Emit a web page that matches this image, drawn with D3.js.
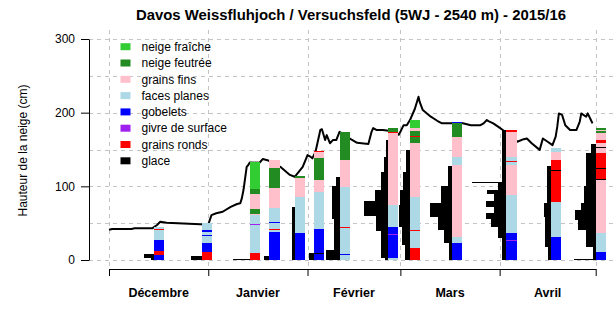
<!DOCTYPE html>
<html><head><meta charset="utf-8">
<script src="https://cdn.jsdelivr.net/npm/d3@7"></script>
<style>
body{margin:0;background:#fff}
svg{display:block}
text{font-family:"Liberation Sans",Arial,Helvetica,sans-serif;fill:#000}
</style>
</head><body>
<svg id="chart" width="616" height="329"></svg>
<script>
// ---------- DATA ----------
const chartTitle = "Davos Weissfluhjoch / Versuchsfeld (5WJ - 2540 m) - 2015/16";
const yLabel = "Hauteur de la neige (cm)";
const typeCodes  = ["F", "FE", "GF", "FP", "GO", "GS", "GR", "GL"];
const typeLabels = ["neige fraîche", "neige feutrée", "grains fins", "faces planes",
                    "gobelets", "givre de surface", "grains ronds", "glace"];
const typeColors = ["#32CD32", "#228B22", "#FFC0CB", "#ADD8E6",
                    "#0000FF", "#A020F0", "#FF0000", "#000000"];

const monthStarts = ["2015-12-01", "2016-01-01", "2016-02-01", "2016-03-01", "2016-04-01", "2016-05-01"];
const monthLabels = ["Décembre", "Janvier", "Février", "Mars", "Avril"];
const yTicks = [0, 100, 200, 300];
const yGrid  = [0, 50, 100, 150, 200, 250, 300];

// snow height (cm)
const heightDates = [
 "2015-12-01T00","2015-12-02T00","2015-12-08T00","2015-12-09T00","2015-12-14T12","2015-12-16T00",
 "2015-12-17T00","2015-12-19T00","2015-12-29T12","2016-01-01T00","2016-01-02T00","2016-01-03T12",
 "2016-01-05T12","2016-01-08T00","2016-01-10T00","2016-01-11T00","2016-01-11T12","2016-01-12T00",
 "2016-01-13T00","2016-01-13T12","2016-01-14T00","2016-01-17T00","2016-01-18T00","2016-01-19T12",
 "2016-01-23T12","2016-01-26T12","2016-01-28T00","2016-01-30T12","2016-02-01T00","2016-02-02T00",
 "2016-02-02T12","2016-02-03T12","2016-02-05T00","2016-02-05T12","2016-02-06T12","2016-02-07T00",
 "2016-02-08T00","2016-02-09T00","2016-02-10T00","2016-02-11T00","2016-02-14T12","2016-02-16T12",
 "2016-02-20T00","2016-02-21T00","2016-02-21T12","2016-02-22T12","2016-02-24T12","2016-02-27T00",
 "2016-02-29T12","2016-03-01T00","2016-03-02T00","2016-03-03T00","2016-03-04T00","2016-03-05T12",
 "2016-03-06T16","2016-03-07T00","2016-03-08T00","2016-03-10T12","2016-03-12T12","2016-03-14T00",
 "2016-03-16T12","2016-03-20T12","2016-03-23T00","2016-03-26T00","2016-03-27T00","2016-03-28T00",
 "2016-03-28T12","2016-03-30T00","2016-03-31T12","2016-04-02T00","2016-04-04T00","2016-04-06T12",
 "2016-04-08T12","2016-04-09T12","2016-04-11T00","2016-04-13T12","2016-04-14T12","2016-04-16T00",
 "2016-04-17T12","2016-04-18T12","2016-04-19T00","2016-04-19T12","2016-04-20T12","2016-04-21T12",
 "2016-04-23T00","2016-04-25T00","2016-04-26T00","2016-04-26T12","2016-04-28T00","2016-04-28T12",
 "2016-04-29T12","2016-04-30T00"
];
const heightValues = [
 41, 42, 42, 43, 43, 47.5,
 52, 50.5, 48.5, 48, 61, 63.5,
 65.5, 72, 76, 77, 84, 95,
 126.5, 129, 132.5, 132, 137, 135.5,
 126.5, 115.5, 113, 126.5, 142.5, 140,
 138, 147, 176.5, 177.5, 163, 169.5,
 158.5, 163, 163, 174, 164, 159,
 157.5, 174, 179, 176.5, 176.5, 175,
 170, 174, 183, 183, 190, 205,
 221.5, 215, 203.5, 194.5, 189, 185.5,
 185.5, 185.5, 183, 183, 185.5, 190,
 188.5, 185.5, 181, 176.5, 170, 160.5,
 164, 165, 158.5, 149.5, 165, 160.5,
 156, 167.5, 181, 199, 197, 183,
 176.5, 176.5, 187.5, 199, 194.5, 199,
 190, 185.5
];

// snow profiles
const profileDates = ["2015-12-15","2015-12-30","2016-01-14","2016-01-20","2016-01-28","2016-02-03",
                      "2016-02-11","2016-02-26","2016-03-04","2016-03-17","2016-04-03","2016-04-17","2016-05-01"];
// layers from the ground up: [top of layer (cm), grain type]
const profileLayers = [
 [[7,"GO"],[12.5,"GR"],[27,"GO"],[41,"FP"],[42,"GR"],[45,"FP"]],
 [[11,"GR"],[23,"GO"],[32,"FP"],[34,"GO"],[38.5,"FP"],[40.5,"GO"],[50,"FP"]],
 [[10,"GR"],[47,"FP"],[49,"GS"],[60.5,"FP"],[62,"GF"],[69,"FE"],[89.5,"GF"],[96,"FE"],[133,"F"]],
 [[38.5,"GO"],[41,"FP"],[42,"GR"],[50,"FP"],[51,"GO"],[70,"FP"],[98,"GF"],[125.5,"FE"],[135.5,"GF"]],
 [[36,"GO"],[85,"FP"],[111,"GF"],[114,"FE"]],
 [[8.5,"GO"],[9.5,"GL"],[41.5,"GO"],[92.5,"FP"],[109,"GF"],[138,"FE"],[147,"GF"],[148.5,"GR"]],
 [[7,"FP"],[8.5,"GO"],[43.5,"FP"],[45,"GR"],[99.5,"FP"],[135.5,"GF"],[174,"FE"]],
 [[2.3,"FP"],[33.5,"GO"],[35,"GS"],[44.5,"GO"],[74.5,"FP"],[172.5,"GF"],[174,"GR"],[178.8,"FE"]],
 [[16,"GR"],[39.5,"FP"],[41,"GR"],[86,"FP"],[158.5,"GF"],[166.5,"FE"],[168,"GR"],[175.5,"FE"],[178.8,"GF"],[190,"F"]],
 [[22.5,"GO"],[31.5,"FP"],[129,"GF"],[140,"FP"],[167.5,"GF"],[185.5,"FE"],[187.7,"GO"]],
 [[26,"GO"],[27,"GS"],[36,"GO"],[88,"FP"],[129,"GF"],[134,"FP"],[135,"GR"],[140,"FP"],[174,"GF"],[177,"GR"]],
 [[31.5,"GO"],[79,"FP"],[120.5,"GR"],[121.5,"GL"],[135.5,"GR"],[147,"GF"],[151.6,"FP"]],
 [[11.3,"GO"],[36.5,"FP"],[108.5,"GF"],[109.5,"GL"],[123,"GR"],[124.5,"GL"],[145,"GR"],[151.5,"GF"],
  [153,"GL"],[159,"GF"],[163,"GR"],[172.8,"GF"],[175,"FE"],[176.5,"GF"],[178.8,"FE"]]
];
// ram hardness from the ground up: [top of segment (cm), hardness (N)]
const profileHardness = [
 [[3,30],[8,100]],
 [[5,110]],
 [[1.5,170]],
 [[5,50]],
 [[72,25]],
 [[9,50]],
 [[13,140],[55,60],[100,80],[113,40]],
 [[3,30],[40,70],[60,120],[80,240],[95,130],[120,70],[140,40],[163,20]],
 [[20,50],[45,80],[75,110],[95,100],[120,70],[150,40]],
 [[23,30],[41,80],[59,140],[77,220],[100,110],[128,40]],
 [[30,40],[45,80],[56,150],[64,200],[72,120],[80,200],[89,120],[95,190],[104,80],[106,340],[177,40]],
 [[18,30],[59,60],[77,70],[127,40]],
 [[2,220],[18,30],[41,100],[54,180],[68,210],[77,150],[100,120],[145,100],[158,50]]
];

// ---------- DRAWING ----------
const svg = d3.select("#chart");
const pDay = d3.utcParse("%Y-%m-%d");
const pHour = d3.utcParse("%Y-%m-%dT%H");
const colorOf = d3.scaleOrdinal().domain(typeCodes).range(typeColors);

const plot = {left: 89, right: 613, top: 30, bottom: 269};
const x = d3.scaleUtc().domain([pDay(monthStarts[0]), pDay(monthStarts[monthStarts.length-1])]).range([109, 595.7]);
const y = d3.scaleLinear().domain([0, 300]).range([260, 39]);
const hx = d3.scaleLinear().domain([0, 100]).range([0, 10]);
const barW = 10.5;

// grid
const grid = svg.append("g").attr("stroke", "#c4c4c4").attr("stroke-width", 1).attr("stroke-dasharray", "4,4");
grid.selectAll("line.h").data(yGrid).join("line").attr("class","h")
  .attr("x1", plot.left).attr("x2", plot.right)
  .attr("y1", d => Math.round(y(d)) + 0.5).attr("y2", d => Math.round(y(d)) + 0.5);
grid.selectAll("line.v").data(monthStarts).join("line").attr("class","v")
  .attr("x1", d => Math.round(x(pDay(d))) + 0.5).attr("x2", d => Math.round(x(pDay(d))) + 0.5)
  .attr("y1", plot.top).attr("y2", plot.bottom);

// snow height line
const heightData = heightDates.map((d, i) => ({date: pHour(d), v: heightValues[i]}));
svg.append("path").datum(heightData)
  .attr("fill", "none").attr("stroke", "#000").attr("stroke-width", 2)
  .attr("stroke-linejoin", "round")
  .attr("d", d3.line().x(d => x(d.date)).y(d => y(d.v)));

// profiles
profileDates.forEach((ds, i) => {
  const x0 = x(pDay(ds));
  const g = svg.append("g").attr("shape-rendering", "crispEdges");
  const hard = profileHardness[i].map((d, j, a) => ({top: d[0], bot: j ? a[j-1][0] : 0, h: d[1]}));
  g.selectAll("rect.h").data(hard).join("rect").attr("class","h")
    .attr("x", d => x0 - hx(d.h)).attr("width", d => hx(d.h))
    .attr("y", d => y(d.top)).attr("height", d => y(d.bot) - y(d.top))
    .attr("fill", "#000");
  const lay = profileLayers[i].map((d, j, a) => ({top: d[0], bot: j ? a[j-1][0] : 0, t: d[1]}));
  g.selectAll("rect.l").data(lay).join("rect").attr("class","l")
    .attr("x", x0).attr("width", barW)
    .attr("y", d => y(d.top)).attr("height", d => Math.max(1, y(d.bot) - y(d.top)))
    .attr("fill", d => colorOf(d.t));
});

// y axis
const yAxis = svg.append("g").attr("transform", `translate(${plot.left},0)`)
  .call(d3.axisLeft(y).tickValues(yTicks).tickSize(8).tickSizeOuter(0).tickPadding(6));
yAxis.selectAll("text").attr("font-size", 12).style("font-family", '"Liberation Sans",Arial,sans-serif');
yAxis.selectAll("path,line").attr("stroke", "#000");

// x axis
const xAxis = svg.append("g").attr("transform", `translate(0,${plot.bottom})`)
  .call(d3.axisBottom(x).tickValues(monthStarts.map(pDay)).tickSize(7).tickSizeOuter(0).tickFormat(""));
xAxis.selectAll("path,line").attr("stroke", "#000");
svg.append("g").selectAll("text").data(monthLabels).join("text")
  .attr("x", (d, i) => (x(pDay(monthStarts[i])) + x(pDay(monthStarts[i+1]))) / 2)
  .attr("y", 297).attr("text-anchor", "middle")
  .attr("font-size", 12.5).attr("font-weight", "bold").text(d => d);

// y label
svg.append("text").attr("transform", "translate(27,150.5) rotate(-90)")
  .attr("text-anchor", "middle").attr("font-size", 12).text(yLabel);

// title
svg.append("text").attr("x", (plot.left + plot.right) / 2).attr("y", 20)
  .attr("text-anchor", "middle").attr("font-size", 14.9).attr("font-weight", "bold").text(chartTitle);

// legend
const lg = svg.append("g");
const rows = lg.selectAll("g").data(typeLabels).join("g")
  .attr("transform", (d, i) => `translate(0,${46.7 + i * 16.3})`);
rows.append("rect").attr("x", 120.5).attr("y", -3.5).attr("width", 10).attr("height", 7)
  .attr("fill", (d, i) => typeColors[i]);
rows.append("text").attr("x", 141.5).attr("dy", "0.35em").attr("font-size", 12).text(d => d);
</script>
</body></html>
